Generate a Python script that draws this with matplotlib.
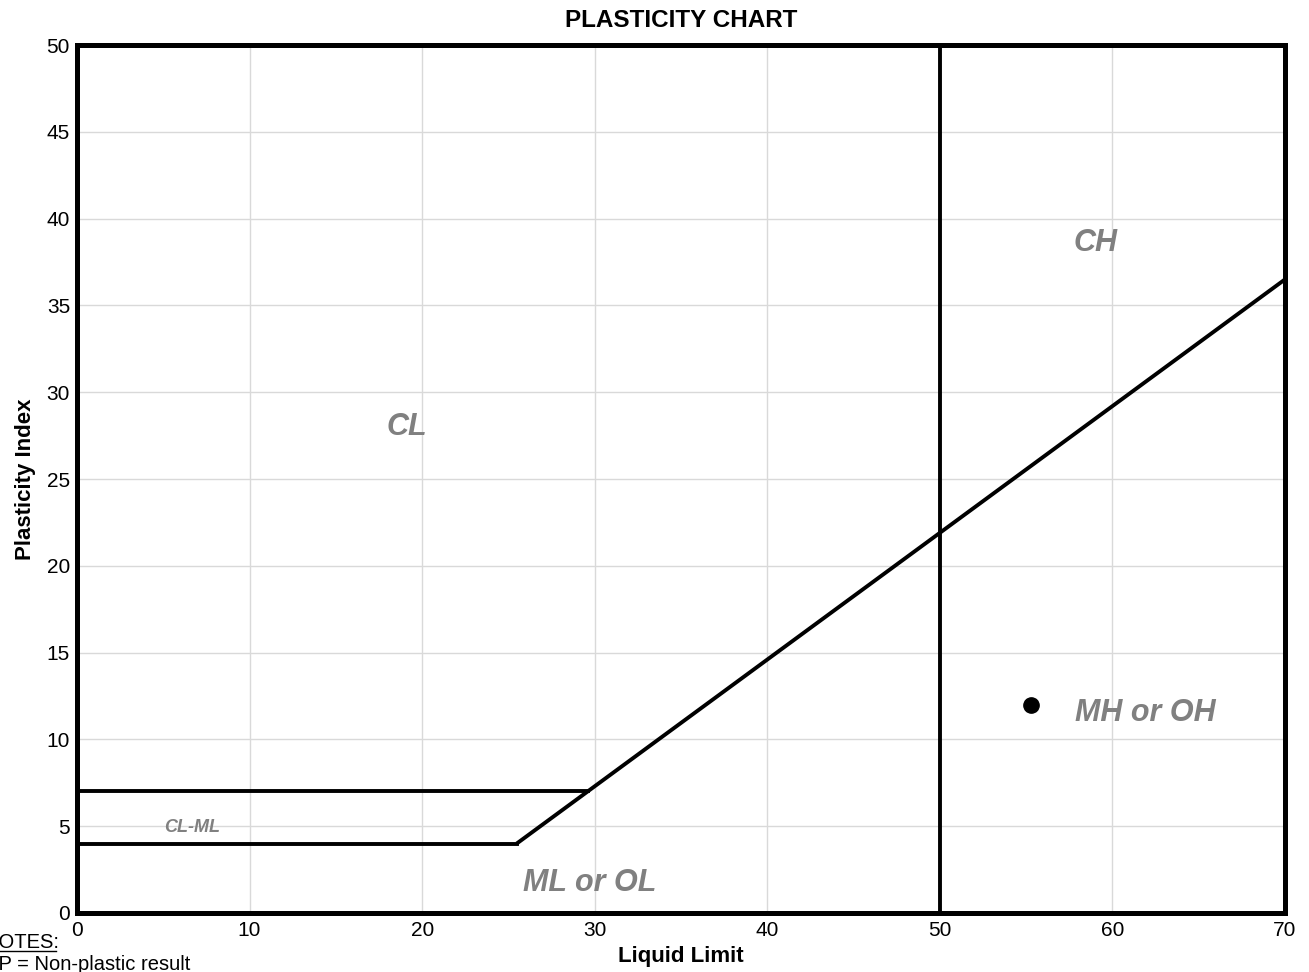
import matplotlib.pyplot as plt
from matplotlib.lines import Line2D

plt.rcParams['font.family'] = ['Liberation Sans', 'DejaVu Sans']

# Boundary lines of the chart (LL, PI)
a_line_ll = [25.48, 70]
a_line_pi = [4.0, 36.5]
low_ll = [0, 25.48]
low_pi = [4, 4]
high_ll = [0, 29.59]
high_pi = [7, 7]
ll_limit = 50

# Zone labels
zone_names = ["CL", "CH", "MH or OH", "ML or OL", "CL-ML"]
zone_x = [19.1, 59.0, 61.9, 29.7, 6.7]
zone_y = [28.0, 38.6, 11.5, 1.7, 4.9]
zone_size = [22, 22, 22, 22, 13]

# Sample result
sample_ll = [55.3]
sample_pi = [12.0]

fig = plt.figure(figsize=(13.09, 9.72), dpi=100)
ax = fig.add_axes([0.0588, 0.0607, 0.9229, 0.893])

ax.set_xlim(0, 70)
ax.set_ylim(0, 50)
ax.set_xticks(range(0, 71, 10))
ax.set_yticks(range(0, 51, 5))
ax.grid(True, color='#d9d9d9', linewidth=1)
ax.set_axisbelow(True)
ax.tick_params(length=0, labelsize=15)
ax.tick_params(axis='x', pad=6)
ax.tick_params(axis='y', pad=5)
for s in ax.spines.values():
    s.set_linewidth(3.6)

lw = 2.8
ax.plot(a_line_ll, a_line_pi, color='black', lw=lw, solid_capstyle='butt')
ax.plot(low_ll, low_pi, color='black', lw=lw)
ax.plot(high_ll, high_pi, color='black', lw=lw)
ax.plot([ll_limit, ll_limit], [0, 50], color='black', lw=lw)

for name, x, y, fs in zip(zone_names, zone_x, zone_y, zone_size):
    ax.text(x, y, name, color='#808080', fontsize=fs, fontweight='bold',
            fontstyle='italic', ha='center', va='center')

ax.plot(sample_ll, sample_pi, 'o', color='black', markersize=11)

ax.set_title('PLASTICITY CHART', fontsize=17.5, fontweight='bold', pad=13)
ax.set_xlabel('Liquid Limit', fontsize=16, fontweight='bold', labelpad=4)
ax.set_ylabel('Plasticity Index', fontsize=16, fontweight='bold', labelpad=8)

fig.text(-0.012, 0.0247, 'NOTES:', fontsize=14.5, ha='left', va='baseline')
fig.add_artist(Line2D([-0.012, 0.0425], [0.0215, 0.0215], color='black', lw=1))
fig.text(-0.012, 0.002, 'NP = Non-plastic result', fontsize=14.5, ha='left', va='baseline')

fig.savefig('out.png', dpi=100)
